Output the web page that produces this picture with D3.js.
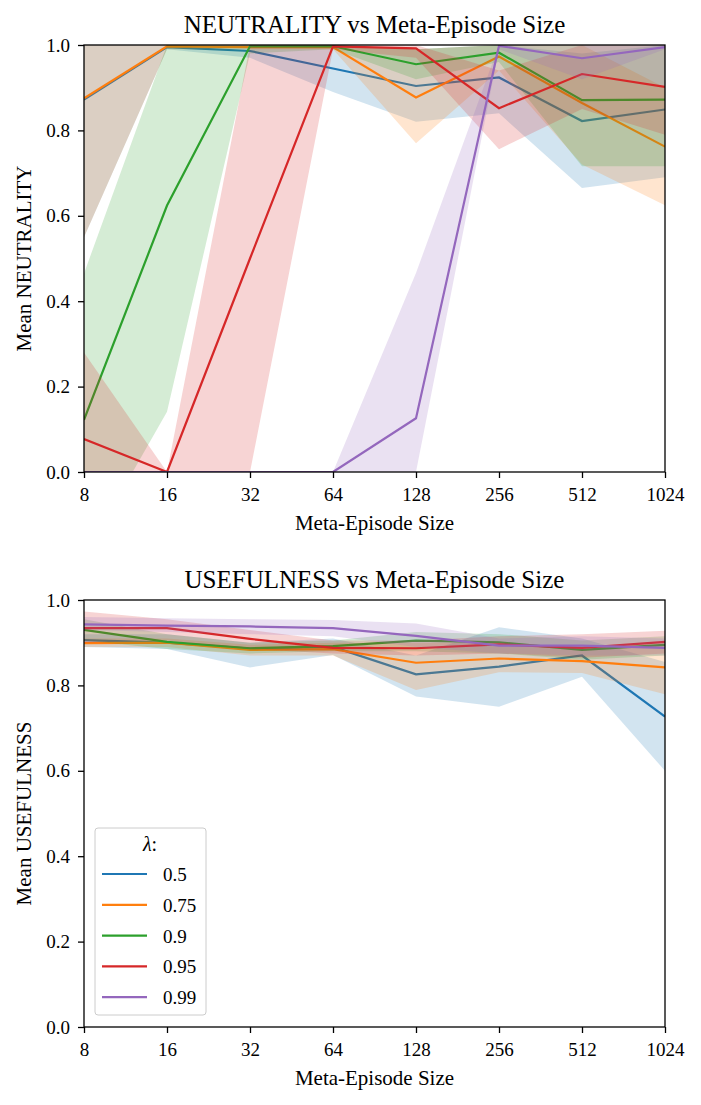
<!DOCTYPE html>
<html>
<head>
<meta charset="utf-8">
<script src="https://cdn.jsdelivr.net/npm/d3@7"></script>
<style>
  body { margin: 0; background: #fff; }
  svg { font-family: "Liberation Serif", "DejaVu Serif", serif; }
</style>
</head>
<body>
<div id="chart"></div>
<script>
// chart data
const sizes = [8, 16, 32, 64, 128, 256, 512, 1024];
const lambdas = ["0.5", "0.75", "0.9", "0.95", "0.99"];
const colors = ["#1f77b4", "#ff7f0e", "#2ca02c", "#d62728", "#9467bd"];
const yTicks = [0, 0.2, 0.4, 0.6, 0.8, 1.0];

// NEUTRALITY means and bands
const neutralMean = [
    [0.872, 0.995, 0.986, 0.945, 0.904, 0.924, 0.822, 0.849],
    [0.875, 0.997, 0.995, 0.995, 0.877, 0.973, 0.864, 0.762],
    [0.122, 0.624, 0.997, 0.997, 0.955, 0.982, 0.871, 0.872],
    [0.077, 0.0, 0.5, 0.997, 0.992, 0.852, 0.932, 0.902],
    [0.0, 0.0, 0.0, 0.0, 0.126, 0.998, 0.969, 0.995]
];
const neutralLow = [
    [0.55, 0.99, 0.97, 0.89, 0.82, 0.84, 0.665, 0.69],
    [0.55, 0.99, 0.99, 0.99, 0.77, 0.94, 0.72, 0.625],
    [-0.2, 0.141, 0.98, 0.99, 0.92, 0.96, 0.716, 0.716],
    [-0.1, 0.0, 0.0, 0.99, 0.97, 0.756, 0.85, 0.79],
    [0.0, 0.0, 0.0, 0.0, 0.0, 0.99, 0.92, 0.99]
];
const neutralHigh = [
    [1.15, 1.0, 1.0, 1.0, 0.99, 1.0, 0.98, 1.0],
    [1.15, 1.0, 1.0, 1.0, 0.99, 1.0, 1.0, 0.9],
    [0.465, 1.0, 1.0, 1.0, 0.99, 1.0, 1.0, 1.0],
    [0.28, 0.0, 1.0, 1.0, 1.0, 0.94, 1.0, 1.0],
    [0.0, 0.0, 0.0, 0.0, 0.466, 1.0, 1.0, 1.0]
];

// USEFULNESS means and bands
const usefulMean = [
    [0.906, 0.90, 0.886, 0.89, 0.826, 0.844, 0.870, 0.727],
    [0.899, 0.90, 0.883, 0.885, 0.853, 0.863, 0.857, 0.842],
    [0.930, 0.902, 0.887, 0.892, 0.905, 0.901, 0.883, 0.895],
    [0.934, 0.934, 0.909, 0.888, 0.887, 0.896, 0.888, 0.902],
    [0.943, 0.940, 0.938, 0.934, 0.916, 0.893, 0.893, 0.888]
];
const usefulLow = [
    [0.89, 0.885, 0.842, 0.871, 0.774, 0.750, 0.820, 0.60],
    [0.89, 0.89, 0.87, 0.87, 0.789, 0.831, 0.829, 0.779],
    [0.905, 0.885, 0.875, 0.88, 0.88, 0.875, 0.86, 0.87],
    [0.90, 0.905, 0.885, 0.875, 0.87, 0.875, 0.865, 0.875],
    [0.93, 0.925, 0.92, 0.915, 0.89, 0.875, 0.87, 0.87]
];
const usefulHigh = [
    [0.92, 0.92, 0.90, 0.91, 0.87, 0.936, 0.91, 0.855],
    [0.91, 0.91, 0.895, 0.90, 0.90, 0.90, 0.89, 0.90],
    [0.955, 0.92, 0.90, 0.905, 0.925, 0.92, 0.905, 0.915],
    [0.973, 0.955, 0.93, 0.905, 0.905, 0.915, 0.92, 0.928],
    [0.96, 0.957, 0.955, 0.953, 0.945, 0.91, 0.915, 0.91]
];

const W = 701, H = 1105;
const left = 84, right = 665;

const svg = d3.select("#chart").append("svg")
    .attr("width", W)
    .attr("height", H);

const xScale = d3.scaleLog().base(2).domain([8, 1024]).range([left, right]);

function drawPanel(top, bottom, title, ylabel, means, lows, highs, showLegend) {
    const yScale = d3.scaleLinear().domain([0, 1]).range([bottom, top]);
    const g = svg.append("g");

    const clipId = "clip" + top;
    g.append("clipPath").attr("id", clipId)
        .append("rect")
        .attr("x", left).attr("y", top)
        .attr("width", right - left).attr("height", bottom - top);

    const plot = g.append("g").attr("clip-path", "url(#" + clipId + ")");

    const line = d3.line()
        .x((d, i) => xScale(sizes[i]))
        .y(d => yScale(d));
    const area = d3.area()
        .x((d, i) => xScale(sizes[i]))
        .y0(d => yScale(d[0]))
        .y1(d => yScale(d[1]));

    // line then band, series by series
    lambdas.forEach((lam, s) => {
        plot.append("path")
            .datum(means[s])
            .attr("fill", "none")
            .attr("stroke", colors[s])
            .attr("stroke-width", 2.2)
            .attr("d", line);
        plot.append("path")
            .datum(lows[s].map((v, i) => [v, highs[s][i]]))
            .attr("fill", colors[s])
            .attr("fill-opacity", 0.2)
            .attr("stroke", "none")
            .attr("d", area);
    });

    // axes
    const xAxis = d3.axisBottom(xScale)
        .tickValues(sizes)
        .tickFormat(d3.format("d"))
        .tickSize(6)
        .tickPadding(10);
    const yAxis = d3.axisLeft(yScale)
        .tickValues(yTicks)
        .tickFormat(d3.format(".1f"))
        .tickSize(6)
        .tickPadding(8);

    const gx = g.append("g")
        .attr("transform", "translate(0," + bottom + ")")
        .call(xAxis);
    const gy = g.append("g")
        .attr("transform", "translate(" + left + ",0)")
        .call(yAxis);
    [gx, gy].forEach(a => {
        a.select(".domain").remove();
        a.selectAll("line").attr("stroke", "#000").attr("stroke-width", 1.3);
        a.selectAll("text").attr("font-size", 19).attr("fill", "#000")
            .attr("font-family", "Liberation Serif");
    });
    gx.selectAll("text").attr("dy", "0.71em");

    // frame
    g.append("rect")
        .attr("x", left).attr("y", top)
        .attr("width", right - left).attr("height", bottom - top)
        .attr("fill", "none")
        .attr("stroke", "#000")
        .attr("stroke-width", 1.3);

    g.append("text")
        .attr("x", (left + right) / 2)
        .attr("y", top - 12)
        .attr("text-anchor", "middle")
        .attr("font-size", 25)
        .text(title);

    g.append("text")
        .attr("x", (left + right) / 2)
        .attr("y", bottom + 58)
        .attr("text-anchor", "middle")
        .attr("font-size", 21)
        .text("Meta-Episode Size");

    g.append("text")
        .attr("transform", "rotate(-90)")
        .attr("x", -(top + bottom) / 2)
        .attr("y", 31)
        .attr("text-anchor", "middle")
        .attr("font-size", 21)
        .text(ylabel);

    if (showLegend) {
        const lg = g.append("g").attr("transform", "translate(95,828)");
        lg.append("rect")
            .attr("x", 0).attr("y", 0)
            .attr("width", 111).attr("height", 187)
            .attr("rx", 3)
            .attr("fill", "#fff")
            .attr("fill-opacity", 0.8)
            .attr("stroke", "#ccc");
        lg.append("text")
            .attr("x", 55).attr("y", 23)
            .attr("text-anchor", "middle")
            .attr("font-size", 20)
            .html('<tspan font-style="italic">λ</tspan>:');
        lambdas.forEach((lam, s) => {
            const yy = 46 + s * 30.8;
            lg.append("line")
                .attr("x1", 7).attr("x2", 52)
                .attr("y1", yy).attr("y2", yy)
                .attr("stroke", colors[s])
                .attr("stroke-width", 2.2);
            lg.append("text")
                .attr("x", 68).attr("y", yy + 7)
                .attr("font-size", 19)
                .text(lam);
        });
    }
}

drawPanel(45, 472, "NEUTRALITY vs Meta-Episode Size", "Mean NEUTRALITY",
    neutralMean, neutralLow, neutralHigh, false);
drawPanel(600, 1027, "USEFULNESS vs Meta-Episode Size", "Mean USEFULNESS",
    usefulMean, usefulLow, usefulHigh, true);
</script>
</body>
</html>
